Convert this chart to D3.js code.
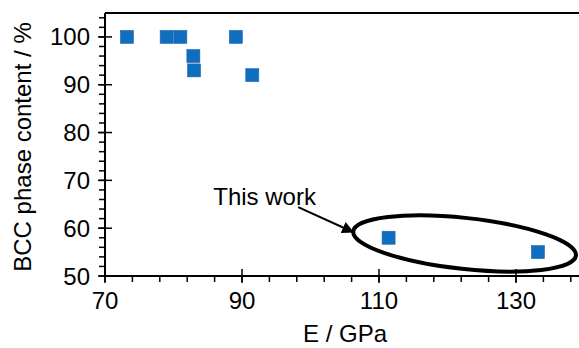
<!DOCTYPE html>
<html>
<head>
<meta charset="utf-8">
<script src="https://cdn.jsdelivr.net/npm/d3@7"></script>
<style>
  body { margin: 0; background: #fff; }
  text { font-family: "Liberation Sans", Arial, sans-serif; fill: #000; }
</style>
</head>
<body>
<script>
// E (GPa) vs BCC phase content (%)
var modulus = [73.2, 79.0, 81.0, 82.9, 83.0, 89.1, 91.5, 111.4, 133.2];
var bccContent = [100, 100, 100, 96, 93, 100, 92, 58, 55];
var xTicks = [70, 90, 110, 130];
var yTicks = [50, 60, 70, 80, 90, 100];

var width = 579, height = 348;

var svg = d3.select("body").append("svg")
    .attr("width", width)
    .attr("height", height);

var x = d3.scaleLinear().domain([70, 140]).range([105, 584.5]);
var y = d3.scaleLinear().domain([50, 105]).range([276, 13]);

var ink = "#000";
var fs = "24px";

// top frame
svg.append("line")
    .attr("x1", x(70)).attr("x2", width)
    .attr("y1", y(105)).attr("y2", y(105))
    .attr("stroke", ink).attr("stroke-width", 2);

// minor ticks
svg.selectAll(".ymin").data(d3.range(50, 105, 2)).enter().append("line")
    .attr("x1", x(70) - 6).attr("x2", x(70))
    .attr("y1", function(d){ return y(d); }).attr("y2", function(d){ return y(d); })
    .attr("stroke", ink).attr("stroke-width", 1.5);

svg.selectAll(".xmin").data(d3.range(70, 140, 4)).enter().append("line")
    .attr("x1", function(d){ return x(d); }).attr("x2", function(d){ return x(d); })
    .attr("y1", y(50)).attr("y2", y(50) + 6)
    .attr("stroke", ink).attr("stroke-width", 1.5);

// major ticks, crossing the axis
svg.selectAll(".ymaj").data(yTicks).enter().append("line")
    .attr("x1", x(70) - 7).attr("x2", x(70) + 7)
    .attr("y1", function(d){ return y(d); }).attr("y2", function(d){ return y(d); })
    .attr("stroke", ink).attr("stroke-width", 1.5);

svg.selectAll(".xmaj").data(xTicks).enter().append("line")
    .attr("x1", function(d){ return x(d); }).attr("x2", function(d){ return x(d); })
    .attr("y1", y(50) - 7).attr("y2", y(50) + 7)
    .attr("stroke", ink).attr("stroke-width", 1.5);

// axis lines
svg.append("line")
    .attr("x1", x(70)).attr("x2", x(70))
    .attr("y1", y(105)).attr("y2", y(50))
    .attr("stroke", ink).attr("stroke-width", 2);
svg.append("line")
    .attr("x1", x(70)).attr("x2", width)
    .attr("y1", y(50)).attr("y2", y(50))
    .attr("stroke", ink).attr("stroke-width", 2);

// tick labels
svg.selectAll(".ylab").data(yTicks).enter().append("text")
    .attr("x", x(70) - 15)
    .attr("y", function(d){ return y(d) + 8.5; })
    .attr("text-anchor", "end")
    .style("font-size", fs)
    .text(function(d){ return d; });

svg.selectAll(".xlab").data(xTicks).enter().append("text")
    .attr("x", function(d){ return x(d); })
    .attr("y", 309)
    .attr("text-anchor", "middle")
    .style("font-size", fs)
    .text(function(d){ return d; });

// axis titles
svg.append("text")
    .attr("x", 345)
    .attr("y", 342)
    .attr("text-anchor", "middle")
    .style("font-size", fs)
    .text("E / GPa");

svg.append("text")
    .attr("transform", "translate(31,147) rotate(-90)")
    .attr("text-anchor", "middle")
    .style("font-size", fs)
    .text("BCC phase content / %");

// points
var pts = modulus.map(function(m, i){ return {e: m, c: bccContent[i]}; });
var size = 13;
svg.selectAll(".pt").data(pts).enter().append("rect")
    .attr("x", function(d){ return x(d.e) - size/2; })
    .attr("y", function(d){ return y(d.c) - size/2; })
    .attr("width", size).attr("height", size)
    .attr("fill", "#0E6FC1")
    .attr("stroke", "#2a62a8").attr("stroke-width", 0.6);

// annotation: ellipse around this work, arrow and label
var cx = x(122.5), cy = y(56.8);
svg.append("ellipse")
    .attr("cx", 0).attr("cy", 0)
    .attr("rx", 112).attr("ry", 25.5)
    .attr("transform", "translate(" + cx + "," + cy + ") rotate(6.2)")
    .attr("fill", "none").attr("stroke", ink).attr("stroke-width", 4);

svg.append("defs").append("marker")
    .attr("id", "arr")
    .attr("viewBox", "0 0 10 10")
    .attr("refX", 9).attr("refY", 5)
    .attr("markerWidth", 6).attr("markerHeight", 6)
    .attr("orient", "auto")
    .append("path").attr("d", "M0,0 L10,5 L0,10 Z").attr("fill", ink);

svg.append("line")
    .attr("x1", x(98.2)).attr("y1", y(64.4))
    .attr("x2", x(106.2)).attr("y2", y(59.2))
    .attr("stroke", ink).attr("stroke-width", 2)
    .attr("marker-end", "url(#arr)");

svg.append("text")
    .attr("x", x(85.8))
    .attr("y", y(64.8))
    .style("font-size", fs)
    .text("This work");
</script>
</body>
</html>
